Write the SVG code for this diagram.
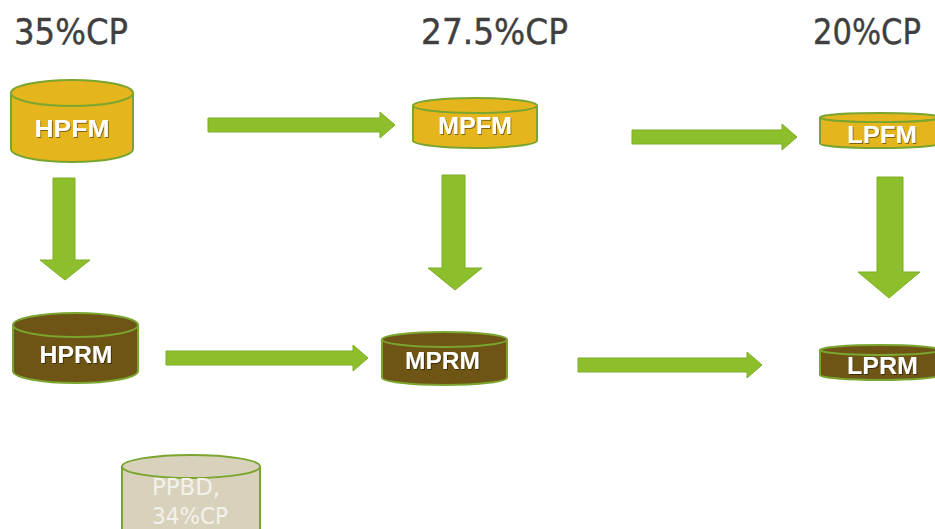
<svg xmlns="http://www.w3.org/2000/svg" width="935" height="529" viewBox="0 0 935 529">
<defs>
<style>
.hd{font-family:"DejaVu Sans","Liberation Sans",sans-serif;font-size:35px;fill:#3f3f3f;stroke:#3f3f3f;stroke-width:0.4}
.lb{font-family:"Liberation Sans","DejaVu Sans",sans-serif;font-weight:bold;font-size:24px;fill:#ffffff;filter:url(#sh)}
.pf{fill:#e5b51d;stroke:#7aa52f;stroke-width:2}
.rm{fill:#6e5415;stroke:#7aa52f;stroke-width:2}
.pb{fill:#d8d2bd;stroke:#7aa52f;stroke-width:2}
.pbt{font-family:"DejaVu Sans","Liberation Sans",sans-serif;font-size:23px;fill:#f4f1e8}
.ar{fill:#8cbf2b;stroke:#7cae24;stroke-width:1}
</style>
<filter id="sh" x="-10%" y="-10%" width="130%" height="140%">
<feDropShadow dx="1" dy="1" stdDeviation="0.6" flood-color="#000" flood-opacity="0.45"/>
</filter>
</defs>
<rect width="935" height="529" fill="#ffffff"/>
<g id="headings">
<text class="hd" x="14" y="44" textLength="114" lengthAdjust="spacingAndGlyphs">35%CP</text>
<text class="hd" x="421" y="44" textLength="147" lengthAdjust="spacingAndGlyphs">27.5%CP</text>
<text class="hd" x="813" y="44" textLength="108" lengthAdjust="spacingAndGlyphs">20%CP</text>
</g>
<g id="connectors">
<path class="ar" d="M208,118 H380 V112 L395,125 L380,138 V132 H208 Z"/>
<path class="ar" d="M632,130 H782 V124 L797,137 L782,150 V144 H632 Z"/>
<path class="ar" d="M166,351 H353 V345 L368,358 L353,371 V365 H166 Z"/>
<path class="ar" d="M578,358 H747 V352 L762,365 L747,378 V372 H578 Z"/>
<path class="ar" d="M53,178 H75 V260 H90 L65,280 L40,260 H53 Z"/>
<path class="ar" d="M442,175 H465 V268 H482 L455,290 L428,268 H442 Z"/>
<path class="ar" d="M877,177 H903 V272 H920 L889,298 L858,272 H877 Z"/>
</g>
<g id="HPFM">
<path class="pf" d="M11,93 V149 A61,13 0 0 0 133,149 V93"/>
<ellipse class="pf" cx="72" cy="93" rx="61" ry="13"/>
<text class="lb" x="72" y="137" text-anchor="middle" textLength="75" lengthAdjust="spacingAndGlyphs">HPFM</text>
</g>
<g id="MPFM">
<path class="pf" d="M413,105.5 V140.5 A62,7.5 0 0 0 537,140.5 V105.5"/>
<ellipse class="pf" cx="475" cy="105.5" rx="62" ry="7.5"/>
<text class="lb" x="475" y="134" text-anchor="middle" textLength="74" lengthAdjust="spacingAndGlyphs">MPFM</text>
</g>
<g id="LPFM">
<path class="pf" d="M820,117.5 V143.5 A60,4.5 0 0 0 940,143.5 V117.5"/>
<ellipse class="pf" cx="880" cy="117.5" rx="60" ry="4.5"/>
<text class="lb" x="882" y="143" text-anchor="middle" textLength="70" lengthAdjust="spacingAndGlyphs">LPFM</text>
</g>
<g id="HPRM">
<path class="rm" d="M13,325 V371 A62.5,12 0 0 0 138,371 V325"/>
<ellipse class="rm" cx="75.5" cy="325" rx="62.5" ry="12"/>
<text class="lb" x="76" y="363" text-anchor="middle" textLength="73" lengthAdjust="spacingAndGlyphs">HPRM</text>
</g>
<g id="MPRM">
<path class="rm" d="M382,339.5 V377.5 A62.5,7.5 0 0 0 507,377.5 V339.5"/>
<ellipse class="rm" cx="444.5" cy="339.5" rx="62.5" ry="7.5"/>
<text class="lb" x="442.5" y="369" text-anchor="middle" textLength="75" lengthAdjust="spacingAndGlyphs">MPRM</text>
</g>
<g id="LPRM">
<path class="rm" d="M820,350 V375 A60,5 0 0 0 940,375 V350"/>
<ellipse class="rm" cx="880" cy="350" rx="60" ry="5"/>
<text class="lb" x="882.5" y="374" text-anchor="middle" textLength="71" lengthAdjust="spacingAndGlyphs">LPRM</text>
</g>
<g id="PPBD">
<path class="pb" d="M122,466.5 V540 H260 V466.5"/>
<ellipse class="pb" cx="191" cy="466.5" rx="69" ry="11.5"/>
<text class="pbt" x="152" y="495" textLength="68" lengthAdjust="spacingAndGlyphs">PPBD,</text>
<text class="pbt" x="152" y="524" textLength="76" lengthAdjust="spacingAndGlyphs">34%CP</text>
</g>
</svg>
